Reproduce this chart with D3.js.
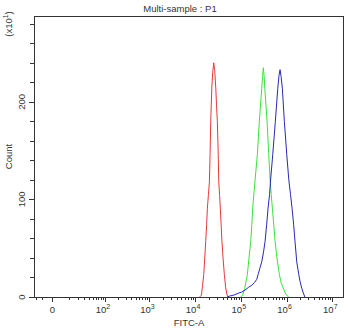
<!DOCTYPE html>
<html>
<head>
<meta charset="utf-8">
<script src="https://cdn.jsdelivr.net/npm/d3@7"></script>
<style>
  html, body { margin: 0; padding: 0; background: #fff; }
  svg { display: block; font-family: "Liberation Sans", Arial, sans-serif; }
</style>
</head>
<body>
<svg id="chart" width="350" height="330"></svg>
<script>
// FITC-A histogram overlay, three samples (count in units of 10)
const redFitc = [1.26e4, 1.38e4, 1.46e4, 1.55e4, 1.63e4, 1.71e4, 1.79e4, 1.86e4, 1.96e4, 2.06e4,
  2.13e4, 2.20e4, 2.32e4, 2.43e4, 2.56e4, 2.69e4, 2.84e4, 2.95e4, 3.07e4, 3.21e4,
  3.30e4, 3.44e4, 3.57e4, 3.72e4, 3.87e4, 4.09e4, 4.37e4, 4.66e4, 5.00e4, 5.37e4];
const redCount = [0, 2, 12, 23, 40, 57, 74, 91, 105, 118,
  146, 180, 214, 230, 240, 232, 214, 196, 180, 146,
  118, 104, 91, 74, 57, 40, 23, 10, 2, 0];

const greenFitc = [1.00e5, 1.10e5, 1.22e5, 1.39e5, 1.51e5, 1.65e5, 1.74e5, 1.82e5, 1.95e5, 2.07e5,
  2.30e5, 2.54e5, 2.87e5, 2.99e5, 3.11e5, 3.24e5, 3.34e5, 3.75e5, 4.08e5, 4.37e5,
  4.62e5, 4.90e5, 5.25e5, 5.61e5, 6.17e5, 6.97e5, 7.67e5, 8.51e5, 9.33e5, 1.01e6, 1.10e6];
const greenCount = [0, 2, 9, 23, 40, 57, 74, 91, 108, 122,
  146, 180, 214, 226, 235, 226, 214, 180, 146, 120,
  105, 91, 74, 57, 40, 23, 14, 9, 4, 2, 0];

const blueFitc = [5.01e4, 5.75e4, 7.08e4, 8.91e4, 1.05e5, 1.23e5, 1.48e5, 1.74e5, 2.00e5, 2.23e5,
  2.42e5, 2.63e5, 2.87e5, 3.16e5, 3.39e5, 3.67e5, 3.94e5, 4.25e5, 4.52e5, 4.99e5,
  5.69e5, 6.43e5, 6.84e5, 7.21e5, 7.59e5, 8.09e5, 8.95e5, 1.01e6, 1.12e6, 1.22e6,
  1.32e6, 1.43e6, 1.53e6, 1.67e6, 1.85e6, 1.97e6, 2.15e6, 2.33e6, 2.51e6];
const blueCount = [0, 1, 2, 4, 5, 7, 10, 12, 15, 18,
  24, 30, 36, 47, 57, 74, 91, 105, 122, 146,
  180, 214, 227, 233, 226, 214, 180, 146, 120, 105,
  91, 74, 57, 36, 23, 16, 9, 4, 0];

const xMajorTicks = [0, 1e2, 1e3, 1e4, 1e5, 1e6, 1e7];
const xMajorLabels = ["0", "10|2", "10|3", "10|4", "10|5", "10|6", "10|7"];
const yMajorTicks = [0, 100, 200];
const yMinorTicks = [20, 40, 60, 80, 120, 140, 160, 180, 220, 240, 260, 280];

const series = [
  { name: "red", x: redFitc, y: redCount, color: "#e8383a" },
  { name: "green", x: greenFitc, y: greenCount, color: "#3ee03e" },
  { name: "blue", x: blueFitc, y: blueCount, color: "#2828b4" }
];

const margin = { left: 34, right: 6, top: 16, bottom: 33 };
const W = 350, H = 330;
const svg = d3.select("#chart");
const ink = "#333";

const x = d3.scaleSymlog().constant(7.6)
  .domain([-11.5, 1.8e7])
  .range([margin.left, W - margin.right]);
const y = d3.scaleLinear()
  .domain([0, 288])
  .range([H - margin.bottom, margin.top]);

// minor x ticks: linear steps near zero, then 2..9 of every decade
const xMinor = [-10];
for (let v = 10; v < 100; v += 10) xMinor.push(v);
for (let p = 2; p < 7; p++) for (let m = 2; m < 10; m++) xMinor.push(m * Math.pow(10, p));
xMinor.push(-5);

const x0 = margin.left, x1 = W - margin.right, y0 = H - margin.bottom, y1 = margin.top;

// curves
const line = d3.line().x(d => x(d[0])).y(d => y(d[1]));
const plot = svg.append("g");
series.forEach(s => {
  const pts = s.x.map((v, i) => [v, s.y[i]]);
  plot.append("path")
    .attr("d", line(pts))
    .attr("fill", "none")
    .attr("stroke", s.color)
    .attr("stroke-width", 1)
    .attr("stroke-linejoin", "round");
});

// frame
svg.append("rect")
  .attr("x", x0 + 0.5).attr("y", y1 + 0.5)
  .attr("width", x1 - x0 - 1).attr("height", y0 - y1)
  .attr("fill", "none").attr("stroke", ink).attr("stroke-width", 1);

// x axis ticks
const xt = svg.append("g");
xMajorTicks.forEach(v => {
  xt.append("line").attr("x1", Math.round(x(v)) + 0.5).attr("x2", Math.round(x(v)) + 0.5)
    .attr("y1", y0).attr("y2", y0 + 5).attr("stroke", ink);
});
xMinor.forEach(v => {
  xt.append("line").attr("x1", Math.round(x(v)) + 0.5).attr("x2", Math.round(x(v)) + 0.5)
    .attr("y1", y0).attr("y2", y0 + 3).attr("stroke", ink);
});
xMajorTicks.forEach((v, i) => {
  const parts = xMajorLabels[i].split("|");
  const t = xt.append("text")
    .attr("x", x(v) - (parts[1] ? 2 : 0)).attr("y", y0 + 16)
    .attr("text-anchor", "middle")
    .attr("font-size", 9.5).attr("fill", ink);
  t.append("tspan").text(parts[0]);
  if (parts[1]) t.append("tspan").attr("dy", -4).attr("font-size", 7).text(parts[1]);
});

// y axis ticks
const yt = svg.append("g");
yMajorTicks.forEach(v => {
  yt.append("line").attr("x1", x0 - 5).attr("x2", x0)
    .attr("y1", Math.round(y(v)) + 0.5).attr("y2", Math.round(y(v)) + 0.5).attr("stroke", ink);
  yt.append("text")
    .attr("transform", `translate(${x0 - 9},${y(v)}) rotate(-90)`)
    .attr("text-anchor", "middle")
    .attr("font-size", 9.5).attr("fill", ink)
    .text(v);
});
yMinorTicks.forEach(v => {
  yt.append("line").attr("x1", x0 - 4).attr("x2", x0)
    .attr("y1", Math.round(y(v)) + 0.5).attr("y2", Math.round(y(v)) + 0.5).attr("stroke", ink);
});

// titles
svg.append("text")
  .attr("x", 180).attr("y", 12)
  .attr("text-anchor", "middle").attr("font-size", 9.5).attr("fill", ink)
  .text("Multi-sample : P1");

svg.append("text")
  .attr("x", (x0 + x1) / 2 + 0).attr("y", 326)
  .attr("text-anchor", "middle").attr("font-size", 9.5).attr("fill", ink)
  .text("FITC-A");

svg.append("text")
  .attr("transform", `translate(12,${(y0 + y1) / 2}) rotate(-90)`)
  .attr("text-anchor", "middle").attr("font-size", 9.5).attr("fill", ink)
  .text("Count");

const mult = svg.append("text")
  .attr("transform", "translate(12,24) rotate(-90)")
  .attr("text-anchor", "middle").attr("font-size", 9.5).attr("fill", ink);
mult.append("tspan").text("(x10");
mult.append("tspan").attr("dy", -4).attr("font-size", 7).text("1");
mult.append("tspan").attr("dy", 4).text(")");
</script>
</body>
</html>
